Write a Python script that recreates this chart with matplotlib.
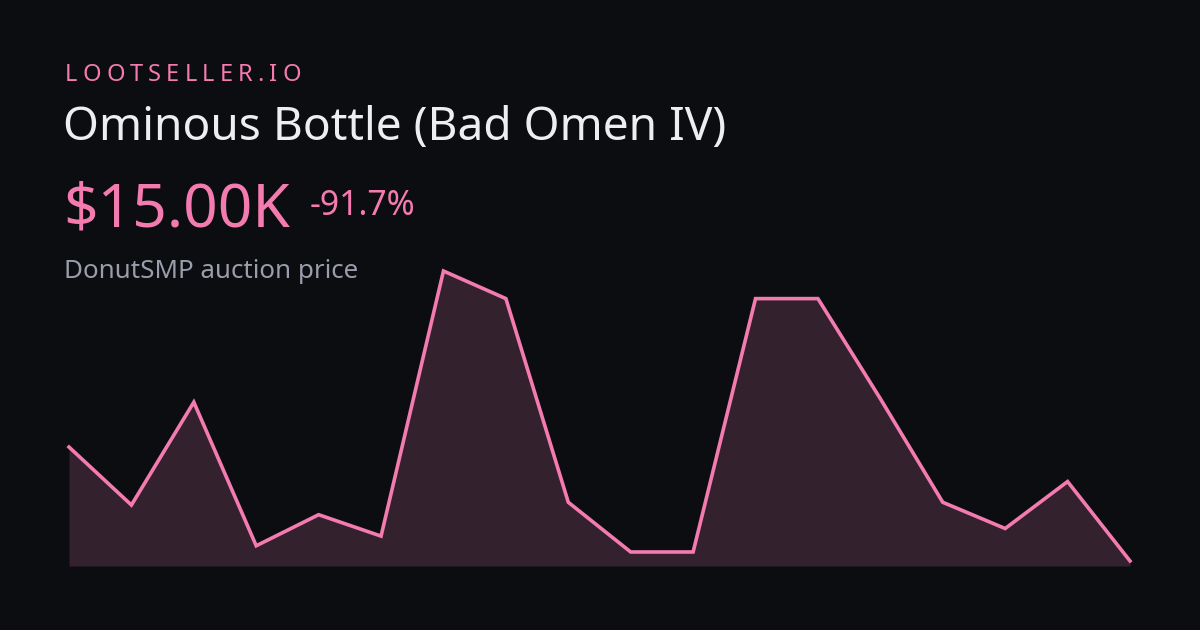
import matplotlib.pyplot as plt
import numpy as np

# prices in thousands
prices = [180, 96, 245, 37, 82, 51, 435, 395, 100, 28, 28, 395, 395, 250, 100, 62, 130, 15]
brand = "LOOTSELLER.IO"
title = "Ominous Bottle (Bad Omen IV)"
price_label = "$15.00K"
change_label = "-91.7%"
subtitle = "DonutSMP auction price"

bg = "#0c0d10"
pink = "#f47bb0"
fill = "#33212e"

plt.rcParams['font.family'] = ['Noto Sans', 'DejaVu Sans']

W, H = 1200, 630
fig = plt.figure(figsize=(12, 6.3), dpi=100, facecolor=bg)

def px(x, y):
    return x / W, 1 - y / H

# chart area in pixels
left, right, top, bottom = 69, 1130, 271, 566
ax = fig.add_axes([left / W, 1 - bottom / H, (right - left) / W, (bottom - top) / H])
ax.set_facecolor(bg)
x = np.arange(len(prices))
base = 7.7
ax.fill_between(x, prices, base, color=fill, lw=0)
ax.plot(x, prices, color=pink, lw=2.6, solid_joinstyle='miter', clip_on=False)
ax.set_xlim(0, len(prices) - 1)
ax.set_ylim(base, max(prices))
ax.axis('off')

# brand with letter spacing
renderer = fig.canvas.get_renderer()
cx = 65
for ch in brand:
    t = fig.text(*px(cx, 81), ch, color=pink, fontsize=17, va='baseline', ha='left')
    cx += t.get_window_extent(renderer).width + 5.1

fig.text(*px(63, 140), title, color="#eceef2", fontsize=33.2, va='baseline', ha='left')
fig.text(*px(63, 226), price_label, color=pink, fontsize=43.5, va='baseline', ha='left')
fig.text(*px(310, 215), change_label, color=pink, fontsize=24.3, va='baseline', ha='left')
fig.text(*px(64, 278), subtitle, color="#9a9eab", fontsize=18.7, va='baseline', ha='left')

fig.savefig("out.png", dpi=100, facecolor=bg)
